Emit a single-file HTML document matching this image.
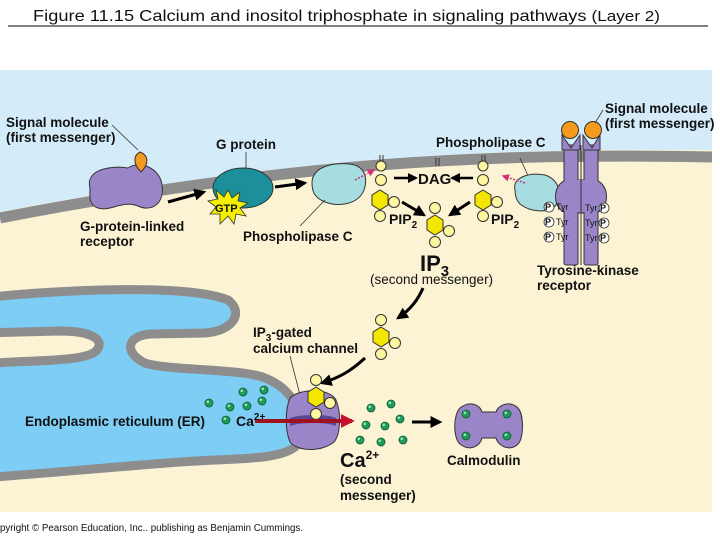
<!DOCTYPE html>
<html><head><meta charset="utf-8"><style>
body{margin:0;background:#fff;width:720px;height:540px;overflow:hidden}
svg{display:block}
text{font-family:"Liberation Sans",sans-serif;font-weight:bold;fill:#111}
</style></head><body>
<svg width="720" height="540" viewBox="0 0 720 540" xmlns="http://www.w3.org/2000/svg">
<defs>
<marker id="ah" viewBox="0 0 10 10" refX="8" refY="5" markerWidth="4" markerHeight="4" orient="auto"><path d="M0,0L10,5L0,10z" fill="#000"/></marker>
<marker id="ar" viewBox="0 0 10 10" refX="8" refY="5" markerWidth="3.5" markerHeight="3.5" orient="auto"><path d="M0,0L10,5L0,10z" fill="#c8102e"/></marker>
<marker id="ap" viewBox="0 0 10 10" refX="8" refY="5" markerWidth="5" markerHeight="5" orient="auto"><path d="M0,0L10,5L0,10z" fill="#d4307a"/></marker>
<g id="ip3"><circle cx="0" cy="-17" r="5.5" fill="#fff6a0" stroke="#333" stroke-width="1"/><polygon points="0,-10 8,-5 8,5 0,10 -8,5 -8,-5" fill="#f5e600" stroke="#333" stroke-width="1"/><circle cx="14" cy="6" r="5.5" fill="#fff6a0" stroke="#333" stroke-width="1"/><circle cx="0" cy="17" r="5.5" fill="#fff6a0" stroke="#333" stroke-width="1"/></g>
<g id="ca"><circle r="4" fill="#1f9a5a" stroke="#0b5e33" stroke-width="0.8"/><circle cx="-1.2" cy="-1.2" r="1.3" fill="#9fe3b8"/></g>
</defs>
<text x="33" y="21" font-size="16" style="font-weight:normal" textLength="627" lengthAdjust="spacingAndGlyphs">Figure 11.15  Calcium and inositol triphosphate in signaling pathways <tspan font-size="15">(Layer 2)</tspan></text>
<line x1="8" y1="26" x2="708" y2="26" stroke="#000" stroke-width="1"/>
<rect x="0" y="70" width="712" height="442" fill="#fbf3d3"/>
<path d="M0,70H712V150C500,148 300,155 0,212Z" fill="#d4ecf9"/>
<path d="M0,218C300,160 500,153 712,157" fill="none" stroke="#8d8d8d" stroke-width="11"/>
<path d="M-20,298C80,288 190,285 228,300C244,312 234,331 205,333L150,334C126,336 124,353 145,363C170,371 240,368 265,378C302,392 306,430 296,446C280,461 230,458 180,462C100,468 40,474 -20,478L-20,364C30,360 85,362 96,351C106,340 92,331 60,331L-20,333Z" fill="#7dcdf5" stroke="#8d8d8d" stroke-width="9"/>
<path d="M90,188C85,170 110,165 128,168C140,160 160,168 162,185C165,205 150,212 138,206C122,200 110,212 98,208C88,205 90,195 90,188Z" fill="#9a85c9" stroke="#333" stroke-width="1"/>
<path d="M140,152C148,155 150,163 141,172C132,163 134,155 140,152Z" fill="#f39a1f" stroke="#333" stroke-width="1"/>
<line x1="112" y1="125" x2="138" y2="150" stroke="#333" stroke-width="0.8"/>
<g font-size="13.5">
<text x="6" y="127">Signal molecule</text>
<text x="6" y="142">(first messenger)</text>
<text x="80" y="231">G-protein-linked</text>
<text x="80" y="246">receptor</text>
<text x="216" y="149">G protein</text>
<text x="243" y="241">Phospholipase C</text>
<text x="436" y="147">Phospholipase C</text>
<text x="605" y="113">Signal molecule</text>
<text x="605" y="128">(first messenger)</text>
<text x="537" y="275">Tyrosine-kinase</text>
<text x="537" y="290">receptor</text>
<text x="253" y="337">IP<tspan font-size="10" dy="4">3</tspan><tspan dy="-4">-gated</tspan></text>
<text x="253" y="353">calcium channel</text>
<text x="25" y="426">Endoplasmic reticulum (ER)</text>
<text x="447" y="465">Calmodulin</text>
<text x="340" y="484">(second</text>
<text x="340" y="500">messenger)</text>
</g>
<ellipse cx="243" cy="188" rx="30" ry="20" fill="#1b8f9a" stroke="#333" stroke-width="1"/>
<line x1="246" y1="152" x2="246" y2="169" stroke="#333" stroke-width="0.8"/>
<polygon points="228,190 232,198 240,192 238,201 248,203 240,208 246,216 236,214 234,224 228,216 220,224 220,214 210,214 216,207 208,201 218,199 216,190 224,197" fill="#f5ef00" stroke="#333" stroke-width="0.8"/>
<text x="215" y="212" font-size="11">GTP</text>
<line x1="168" y1="202" x2="204" y2="192" stroke="#000" stroke-width="3" marker-end="url(#ah)"/>
<line x1="275" y1="187" x2="305" y2="183" stroke="#000" stroke-width="3" marker-end="url(#ah)"/>
<path d="M312,183C312,168 330,162 350,164C365,166 368,178 364,190C358,205 338,207 325,202C315,198 312,192 312,183Z" fill="#a6dde0" stroke="#333" stroke-width="1"/>
<line x1="325" y1="200" x2="300" y2="226" stroke="#333" stroke-width="0.8"/>
<line x1="355" y1="180" x2="374" y2="170" stroke="#d4307a" stroke-width="1.5" stroke-dasharray="2,1.5" marker-end="url(#ap)"/>
<g stroke="#333" stroke-width="1">
<line x1="380" y1="155" x2="380" y2="162"/><line x1="383" y1="155" x2="383" y2="162"/>
<circle cx="381" cy="166" r="5" fill="#fff6a0"/><circle cx="381" cy="180" r="5.5" fill="#fff6a0"/>
<line x1="436" y1="158" x2="436" y2="166"/><line x1="439" y1="158" x2="439" y2="166"/>
<line x1="482" y1="155" x2="482" y2="162"/><line x1="485" y1="155" x2="485" y2="162"/>
<circle cx="483" cy="166" r="5" fill="#fff6a0"/><circle cx="483" cy="180" r="5.5" fill="#fff6a0"/>
</g>
<g transform="translate(380,200)"><polygon points="0,-10 8,-5 8,5 0,10 -8,5 -8,-5" fill="#f5e600" stroke="#333"/><circle cx="14" cy="2" r="5.5" fill="#fff6a0" stroke="#333"/><circle cx="0" cy="16" r="5.5" fill="#fff6a0" stroke="#333"/></g>
<g transform="translate(483,200)"><polygon points="0,-10 8,-5 8,5 0,10 -8,5 -8,-5" fill="#f5e600" stroke="#333"/><circle cx="14" cy="2" r="5.5" fill="#fff6a0" stroke="#333"/><circle cx="0" cy="16" r="5.5" fill="#fff6a0" stroke="#333"/></g>
<text x="389" y="224" font-size="14">PIP<tspan font-size="10" dy="4">2</tspan></text>
<text x="491" y="224" font-size="14">PIP<tspan font-size="10" dy="4">2</tspan></text>
<line x1="394" y1="178" x2="416" y2="178" stroke="#000" stroke-width="2.5" marker-end="url(#ah)"/>
<line x1="473" y1="178" x2="452" y2="178" stroke="#000" stroke-width="2.5" marker-end="url(#ah)"/>
<text x="418" y="184" font-size="15">DAG</text>
<line x1="402" y1="202" x2="424" y2="215" stroke="#000" stroke-width="3" marker-end="url(#ah)"/>
<line x1="470" y1="202" x2="450" y2="215" stroke="#000" stroke-width="3" marker-end="url(#ah)"/>
<use href="#ip3" x="435" y="225"/>
<text x="420" y="271" font-size="22">IP<tspan font-size="15" dy="5">3</tspan></text>
<text x="370" y="284" font-size="13.5" style="font-weight:normal">(second messenger)</text>
<line x1="520" y1="158" x2="530" y2="180" stroke="#333" stroke-width="0.8"/>
<path d="M515,190C512,178 528,172 545,175C560,180 562,195 556,205C548,214 530,212 520,204C516,200 515,195 515,190Z" fill="#a6dde0" stroke="#333" stroke-width="1"/>
<line x1="525" y1="183" x2="503" y2="176" stroke="#d4307a" stroke-width="1.5" stroke-dasharray="2,1.5" marker-end="url(#ap)"/>
<g fill="#9a85c9" stroke="#333" stroke-width="1">
<path d="M566,180C552,185 552,208 566,213H596C610,208 610,185 596,180Z"/>
<rect x="564" y="145" width="14" height="120" rx="2"/><rect x="584" y="145" width="14" height="120" rx="2"/>
<path d="M562,135L571,148L580,135V150H562Z"/><path d="M583,135L592,148L600,135V150H583Z"/>
</g>
<path d="M566,180C556,186 556,207 566,212H596C606,207 606,186 596,180Z" fill="#9a85c9"/>
<line x1="581" y1="145" x2="581" y2="265" stroke="#333"/>
<circle cx="570" cy="130" r="8.5" fill="#f39a1f" stroke="#333"/><circle cx="593" cy="130" r="8.5" fill="#f39a1f" stroke="#333"/>
<g font-size="9">
<g fill="#fff" stroke="#333" stroke-width="0.8"><circle cx="549" cy="207" r="5"/><circle cx="549" cy="222" r="5"/><circle cx="549" cy="237" r="5"/><circle cx="604" cy="208" r="5"/><circle cx="604" cy="223" r="5"/><circle cx="604" cy="238" r="5"/></g>
<text x="545" y="210">P</text><text x="545" y="225">P</text><text x="545" y="240">P</text>
<text x="600" y="211">P</text><text x="600" y="226">P</text><text x="600" y="241">P</text>
<text x="556" y="210" style="font-weight:normal">Tyr</text><text x="556" y="225" style="font-weight:normal">Tyr</text><text x="556" y="240" style="font-weight:normal">Tyr</text>
<text x="585" y="211" style="font-weight:normal">Tyr</text><text x="585" y="226" style="font-weight:normal">Tyr</text><text x="585" y="241" style="font-weight:normal">Tyr</text>
</g>
<line x1="603" y1="110" x2="595" y2="123" stroke="#333" stroke-width="0.8"/>
<path d="M423,288C418,300 410,310 398,318" fill="none" stroke="#000" stroke-width="3" marker-end="url(#ah)"/>
<use href="#ip3" x="381" y="337"/>
<path d="M365,358C350,372 338,378 322,383" fill="none" stroke="#000" stroke-width="3" marker-end="url(#ah)"/>
<line x1="290" y1="356" x2="300" y2="395" stroke="#333" stroke-width="0.8"/>
<path d="M290,398C300,388 330,388 336,400C342,415 340,435 334,442C322,452 298,452 290,442C285,430 285,410 290,398Z" fill="#9a85c9" stroke="#333" stroke-width="1"/>
<path d="M290,418C300,414 328,414 336,418V426C328,422 300,422 290,426Z" fill="#5a4898"/>
<use href="#ip3" x="316" y="397"/>
<line x1="255" y1="421" x2="352" y2="421" stroke="#a0131e" stroke-width="4" marker-end="url(#ar)"/>
<text x="236" y="426" font-size="14">Ca<tspan font-size="10" dy="-6">2+</tspan></text>
<use href="#ca" x="226" y="420"/><use href="#ca" x="209" y="403"/><use href="#ca" x="230" y="407"/><use href="#ca" x="247" y="406"/><use href="#ca" x="262" y="401"/><use href="#ca" x="243" y="392"/><use href="#ca" x="264" y="390"/>
<use href="#ca" x="371" y="408"/><use href="#ca" x="391" y="404"/><use href="#ca" x="366" y="425"/><use href="#ca" x="385" y="426"/><use href="#ca" x="400" y="419"/><use href="#ca" x="360" y="440"/><use href="#ca" x="381" y="442"/><use href="#ca" x="403" y="440"/>
<line x1="412" y1="422" x2="440" y2="422" stroke="#000" stroke-width="3" marker-end="url(#ah)"/>
<path d="M460,408C470,400 480,405 482,412H496C498,405 510,400 518,408C524,415 524,438 518,444C510,452 498,446 496,438H482C480,446 470,452 460,444C453,438 453,415 460,408Z" fill="#9a85c9" stroke="#333" stroke-width="1"/>
<use href="#ca" x="466" y="414"/><use href="#ca" x="507" y="414"/><use href="#ca" x="466" y="436"/><use href="#ca" x="507" y="436"/>
<text x="340" y="467" font-size="20">Ca<tspan font-size="12" dy="-8">2+</tspan></text>
<text x="0" y="531" font-size="10" style="font-weight:normal" textLength="303" lengthAdjust="spacingAndGlyphs">pyright © Pearson Education, Inc.. publishing as Benjamin Cummings.</text>
</svg>
</body></html>
